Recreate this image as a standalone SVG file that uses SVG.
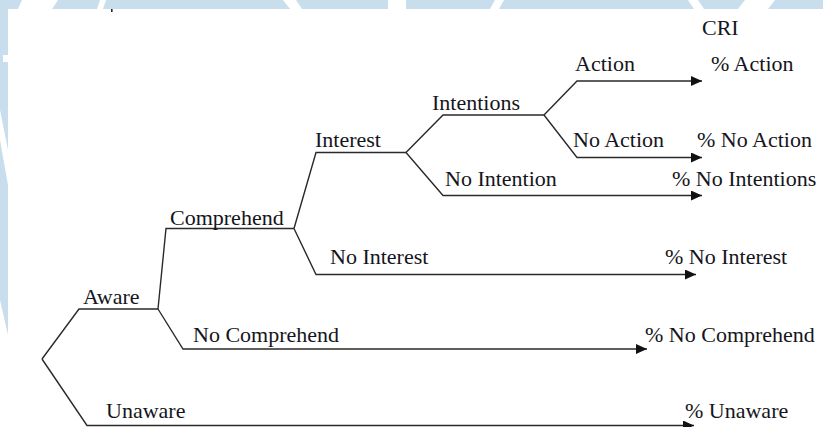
<svg xmlns="http://www.w3.org/2000/svg" width="823" height="427" viewBox="0 0 823 427">
  <style>
    .lbl { font-family: "Liberation Serif", "Times New Roman", serif; font-size: 22px; fill: #151520; }
    .edge { fill: none; stroke: #2a2a2a; stroke-width: 1.4; stroke-linejoin: miter; }
    .arr { marker-end: url(#ah); }
    .wm { fill: #c9deec; }
    .gap { fill: #ffffff; }
  </style>
  <defs>
    <marker id="ah" markerUnits="userSpaceOnUse" markerWidth="12" markerHeight="11" refX="11" refY="5" orient="auto">
      <path d="M0,0 L11,5 L0,10 Z" fill="#111"/>
    </marker>
  </defs>

  <!-- background watermark -->
  <rect x="0" y="0" width="823" height="427" fill="#ffffff"/>
  <g id="watermark">
    <rect class="wm" x="0" y="0" width="823" height="9"/>
    <polygon class="wm" points="0,0 8,0 8,335 0,300"/>
    <polygon class="gap" points="22,0 58,0 52,9 18,9"/>
    <polygon class="gap" points="100,0 106,0 103,9 97,9"/>
    <polygon class="gap" points="283,0 296,0 302,9 290,9"/>
    <polygon class="gap" points="388,0 406,0 406,9 388,9"/>
    <polygon class="gap" points="495,0 504,0 499,9 490,9"/>
    <polygon class="gap" points="688,0 698,0 704,9 694,9"/>
    <polygon class="gap" points="745,0 775,0 768,9 738,9"/>
    <polygon class="gap" points="3,55 8,55 8,62 3,62"/>
    <polygon class="gap" points="0,110 0,140 8,185 8,150"/>
    <rect x="111" y="9" width="1.6" height="3" fill="#222"/>
  </g>

  <g id="connectors">
    <polyline class="edge" points="42,359 79,309 158,309"/>
    <polyline class="edge arr" points="42,359 87,425.5 694,425.5"/>
    <polyline class="edge" points="158,309 166,228.5 294,228.5"/>
    <polyline class="edge arr" points="158,309 183,349 647,349"/>
    <polyline class="edge" points="294,228.5 316,152.5 406,152.5"/>
    <polyline class="edge arr" points="294,228.5 316,274.5 696,274.5"/>
    <polyline class="edge" points="406,152.5 443,115 544,115"/>
    <polyline class="edge arr" points="406,152.5 443,195.5 702,195.5"/>
    <polyline class="edge arr" points="544,115 577,81 702,81"/>
    <polyline class="edge arr" points="544,115 577,157.5 702,157.5"/>
  </g>

  <g id="header"><text class="lbl" x="702" y="35">CRI</text></g>

  <g id="node-aware"><text class="lbl" x="83" y="304">Aware</text></g>
  <g id="node-unaware"><text class="lbl" x="106" y="418">Unaware</text></g>
  <g id="node-comprehend"><text class="lbl" x="170" y="225">Comprehend</text></g>
  <g id="node-no-comprehend"><text class="lbl" x="193" y="342">No Comprehend</text></g>
  <g id="node-interest"><text class="lbl" x="315" y="147">Interest</text></g>
  <g id="node-no-interest"><text class="lbl" x="330" y="264">No Interest</text></g>
  <g id="node-intentions"><text class="lbl" x="432" y="110">Intentions</text></g>
  <g id="node-no-intention"><text class="lbl" x="445" y="186">No Intention</text></g>
  <g id="node-action"><text class="lbl" x="575" y="71">Action</text></g>
  <g id="node-no-action"><text class="lbl" x="573" y="147">No Action</text></g>

  <g id="out-action"><text class="lbl" x="711" y="71">% Action</text></g>
  <g id="out-no-action"><text class="lbl" x="697" y="147">% No Action</text></g>
  <g id="out-no-intentions"><text class="lbl" x="672" y="186">% No Intentions</text></g>
  <g id="out-no-interest"><text class="lbl" x="665" y="264">% No Interest</text></g>
  <g id="out-no-comprehend"><text class="lbl" x="645" y="342">% No Comprehend</text></g>
  <g id="out-unaware"><text class="lbl" x="685" y="418">% Unaware</text></g>
</svg>
